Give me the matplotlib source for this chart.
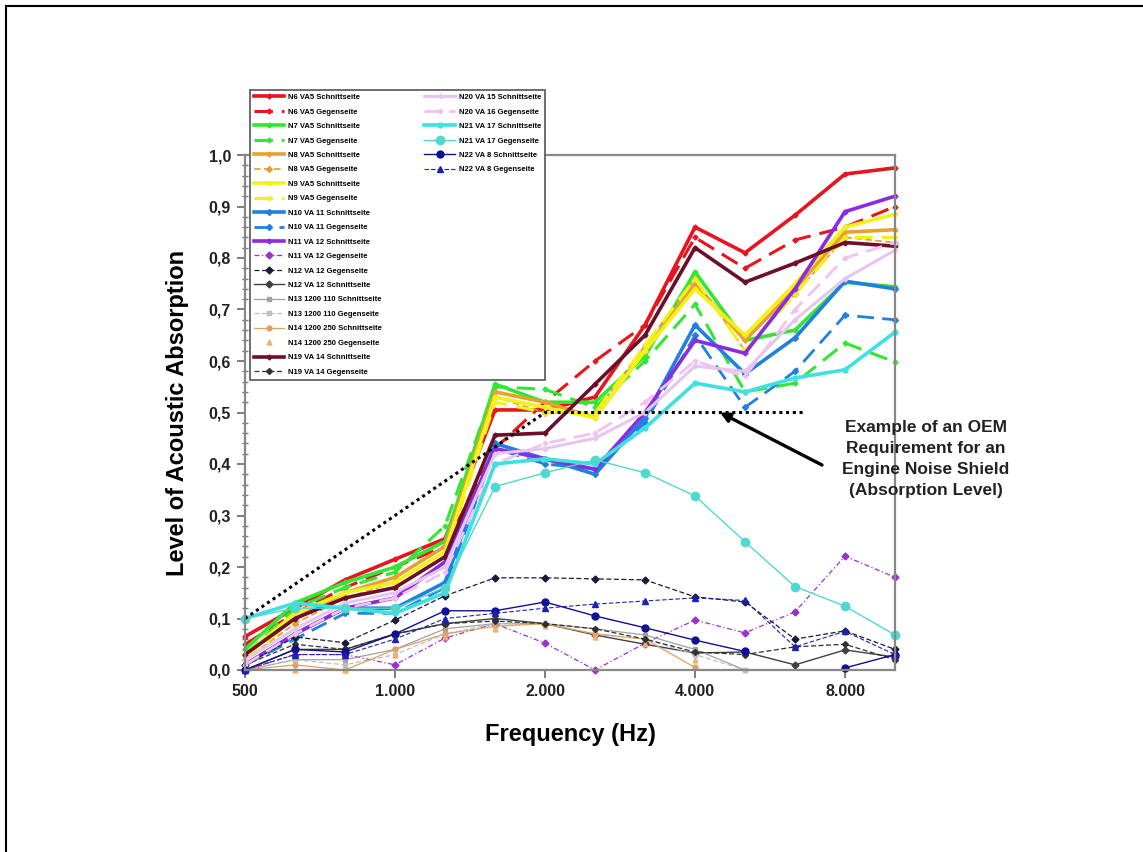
import numpy as np
import matplotlib
matplotlib.use("Agg")
import matplotlib.pyplot as plt
from matplotlib.lines import Line2D

plt.rcParams['font.family'] = ['Liberation Sans', 'DejaVu Sans']

# third-octave bands, plotted at even spacing
freqs = [500, 630, 800, 1000, 1250, 1600, 2000, 2500, 3150, 4000, 5000, 6300, 8000, 10000]
tick_idx = [0, 3, 6, 9, 12]
tick_labels = ["500", "1.000", "2.000", "4.000", "8.000"]

n6_s = [0.065, 0.12, 0.175, 0.215, 0.255, 0.505, 0.505, 0.53, 0.67, 0.86, 0.81, 0.883, 0.963, 0.975]
n6_g = [0.05, 0.11, 0.16, 0.20, 0.24, 0.43, 0.52, 0.60, 0.67, 0.84, 0.78, 0.835, 0.86, 0.90]
n7_s = [0.04, 0.13, 0.17, 0.20, 0.25, 0.555, 0.52, 0.52, 0.61, 0.773, 0.64, 0.66, 0.753, 0.744]
n7_g = [0.03, 0.12, 0.16, 0.19, 0.28, 0.55, 0.545, 0.51, 0.60, 0.71, 0.54, 0.557, 0.635, 0.598]
n8_s = [0.03, 0.10, 0.15, 0.18, 0.24, 0.54, 0.52, 0.49, 0.62, 0.75, 0.64, 0.74, 0.85, 0.855]
n8_g = [0.02, 0.09, 0.14, 0.17, 0.23, 0.53, 0.50, 0.50, 0.63, 0.76, 0.62, 0.73, 0.84, 0.83]
n9_s = [0.03, 0.11, 0.15, 0.17, 0.23, 0.53, 0.51, 0.49, 0.62, 0.74, 0.65, 0.75, 0.86, 0.885]
n9_g = [0.02, 0.10, 0.14, 0.16, 0.22, 0.52, 0.50, 0.50, 0.63, 0.76, 0.62, 0.73, 0.84, 0.84]
n10_s = [0.01, 0.07, 0.12, 0.12, 0.17, 0.44, 0.41, 0.38, 0.49, 0.67, 0.575, 0.645, 0.755, 0.74]
n10_g = [0.01, 0.06, 0.11, 0.11, 0.16, 0.43, 0.40, 0.39, 0.48, 0.65, 0.51, 0.58, 0.689, 0.68]
n11_s = [0.01, 0.07, 0.12, 0.14, 0.21, 0.43, 0.41, 0.39, 0.50, 0.64, 0.615, 0.74, 0.89, 0.92]
n11_g = [0.0, 0.03, 0.03, 0.01, 0.062, 0.09, 0.052, 0.0, 0.052, 0.097, 0.072, 0.113, 0.221, 0.18]
n12_g = [0.01, 0.064, 0.053, 0.097, 0.144, 0.179, 0.179, 0.177, 0.175, 0.142, 0.132, 0.06, 0.076, 0.04]
n12_s = [0.0, 0.04, 0.04, 0.07, 0.09, 0.10, 0.09, 0.068, 0.05, 0.033, 0.035, 0.01, 0.039, 0.025]
n13_s = [0.0, 0.02, 0.02, 0.04, 0.08, 0.09, 0.09, 0.08, 0.068, 0.04, 0.0, np.nan, np.nan, np.nan]
n13_g = [0.0, 0.02, 0.01, 0.03, 0.07, 0.09, 0.09, 0.07, 0.06, 0.03, 0.0, np.nan, np.nan, np.nan]
n14_s = [0.0, 0.01, 0.0, 0.04, 0.07, 0.085, 0.09, 0.07, 0.06, 0.005, np.nan, np.nan, np.nan, np.nan]
n14_g = [0.0, 0.0, 0.0, 0.03, 0.065, 0.08, 0.085, 0.065, 0.05, 0.02, np.nan, np.nan, np.nan, np.nan]
n19_s = [0.03, 0.10, 0.14, 0.16, 0.22, 0.456, 0.46, 0.555, 0.65, 0.82, 0.753, 0.79, 0.83, 0.823]
n19_g = [0.01, 0.05, 0.04, 0.07, 0.09, 0.095, 0.09, 0.08, 0.06, 0.035, 0.03, 0.045, 0.05, 0.02]
n20_s = [0.02, 0.08, 0.13, 0.15, 0.20, 0.42, 0.43, 0.45, 0.50, 0.59, 0.58, 0.68, 0.76, 0.815]
n20_g = [0.01, 0.07, 0.12, 0.14, 0.19, 0.40, 0.44, 0.46, 0.52, 0.60, 0.57, 0.70, 0.80, 0.83]
n21_s = [0.10, 0.13, 0.12, 0.11, 0.15, 0.40, 0.41, 0.40, 0.47, 0.557, 0.54, 0.567, 0.583, 0.656]
n21_g = [0.10, 0.12, 0.12, 0.12, 0.16, 0.356, 0.383, 0.408, 0.383, 0.338, 0.249, 0.162, 0.124, 0.068]
n22_s = [0.0, 0.04, 0.035, 0.07, 0.115, 0.115, 0.132, 0.105, 0.082, 0.058, 0.036, np.nan, 0.004, 0.03]
n22_g = [0.0, 0.03, 0.03, 0.06, 0.10, 0.11, 0.12, 0.128, 0.134, 0.14, 0.135, 0.045, 0.075, 0.03]

labels = [
    "N6 VA5 Schnittseite", "N6 VA5 Gegenseite",
    "N7 VA5 Schnittseite", "N7 VA5 Gegenseite",
    "N8 VA5 Schnittseite", "N8 VA5 Gegenseite",
    "N9 VA5 Schnittseite", "N9 VA5 Gegenseite",
    "N10 VA 11 Schnittseite", "N10 VA 11 Gegenseite",
    "N11 VA 12 Schnittseite", "N11 VA 12 Gegenseite",
    "N12 VA 12 Gegenseite", "N12 VA 12 Schnittseite",
    "N13 1200 110 Schnittseite", "N13 1200 110 Gegenseite",
    "N14 1200 250 Schnittseite", "N14 1200 250 Gegenseite",
    "N19 VA 14 Schnittseite", "N19 VA 14 Gegenseite",
    "N20 VA 15 Schnittseite", "N20 VA 16 Gegenseite",
    "N21 VA 17 Schnittseite", "N21 VA 17 Gegenseite",
    "N22 VA 8 Schnittseite", "N22 VA 8 Gegenseite",
]
series = [n6_s, n6_g, n7_s, n7_g, n8_s, n8_g, n9_s, n9_g, n10_s, n10_g,
          n11_s, n11_g, n12_g, n12_s, n13_s, n13_g, n14_s, n14_g, n19_s, n19_g,
          n20_s, n20_g, n21_s, n21_g, n22_s, n22_g]

# color, linestyle, linewidth, marker, markersize
styles = [
    ("#e8141e", "-", 2.6, "D", 2.5), ("#e8141e", (0, (6, 3)), 2.2, "D", 2.5),
    ("#33e633", "-", 2.6, "D", 2.5), ("#33e633", (0, (6, 3)), 2.2, "D", 2.5),
    ("#e8a030", "-", 2.6, "D", 2.5), ("#e0a030", (0, (4, 2)), 1.2, "D", 3),
    ("#f2f21a", "-", 2.6, "D", 2.5), ("#f2f21a", (0, (6, 3)), 2.2, "D", 2.5),
    ("#2080e0", "-", 2.6, "D", 3), ("#2080e0", (0, (6, 3)), 2.0, "D", 3),
    ("#8a2be2", "-", 2.6, "D", 2.5), ("#9932cc", (0, (4, 2, 1, 2)), 0.9, "D", 3.5),
    ("#1a1a3a", (0, (4, 2)), 0.9, "D", 3.5), ("#404040", "-", 1.0, "D", 3.5),
    ("#a0a0a0", "-", 0.9, "s", 3.5), ("#b8c0c8", (0, (4, 2)), 0.9, "s", 3.5),
    ("#e0a060", "-", 0.9, "o", 3.5), ("#f0b070", "none", 0.9, "^", 3.5),
    ("#6b0f2a", "-", 2.6, "D", 2.5), ("#303030", (0, (4, 2)), 0.9, "D", 3),
    ("#e6c6f0", "-", 2.2, "D", 2.5), ("#f4c0f0", (0, (6, 3)), 2.0, "D", 2.5),
    ("#40e0e0", "-", 2.6, "o", 3.5), ("#50d8d0", "-", 1.0, "o", 6),
    ("#101090", "-", 1.0, "o", 5), ("#2020b0", (0, (4, 2)), 0.8, "^", 4.5),
]

# OEM requirement line
req_x = [0, 6, 11.2]
req_y = [0.1, 0.5, 0.5]

fig = plt.figure(figsize=(11.43, 8.52), dpi=100)
ax = fig.add_axes([245 / 1143, 1 - 670 / 852, 650 / 1143, 515 / 852])

x = np.arange(len(freqs))
handles = []
for vals, lab, (c, ls, lw, mk, ms) in zip(series, labels, styles):
    h, = ax.plot(x, vals, color=c, linestyle=ls, linewidth=lw, marker=mk,
                 markersize=ms, label=lab, clip_on=False)
    handles.append(h)

ax.plot(req_x, req_y, color="black", linestyle=(0, (1, 1.2)), linewidth=2.2)

ax.set_xlim(0, 13)
ax.set_ylim(0, 1.0)
ax.set_xticks(tick_idx)
ax.set_xticklabels(tick_labels)
ax.set_yticks(np.arange(0, 1.01, 0.1))
ax.set_yticklabels([f"{v:.1f}".replace(".", ",") for v in np.arange(0, 1.01, 0.1)])
ax.set_yticks(np.arange(0, 1.001, 0.02), minor=True)
for sp in ax.spines.values():
    sp.set_color("#888888")
    sp.set_linewidth(1.6)
ax.tick_params(axis="both", which="major", labelsize=11.5, color="#666666",
               length=6, width=1.2, direction="out", pad=4)
ax.tick_params(axis="y", which="minor", length=4, width=1.0, color="#777777",
               direction="inout")
for t in ax.get_xticklabels() + ax.get_yticklabels():
    t.set_fontweight("bold")
    t.set_color("#222222")

ax.set_xlabel("Frequency (Hz)", fontsize=17, fontweight="bold", labelpad=17)
ax.set_ylabel("Level of Acoustic Absorption", fontsize=17, fontweight="bold", labelpad=14)

fig.text(926 / 1143, 1 - 459 / 852,
         "Example of an OEM\nRequirement for an\nEngine Noise Shield\n(Absorption Level)",
         ha="center", va="center", fontsize=12.5, fontweight="bold", color="#222222",
         linespacing=1.5)
ax.annotate("", xy=(9.5, 0.5), xytext=(822 / 1143, 1 - 465 / 852),
            textcoords="figure fraction",
            arrowprops=dict(arrowstyle="-|>", color="black", lw=2.4, shrinkA=0, shrinkB=0,
                            mutation_scale=14))

# legend: 20 entries in the first column, 6 in the second
blank = Line2D([], [], linestyle="none", marker=None)
leg_handles = handles[:20] + handles[20:] + [blank] * 14
leg_labels = labels[:20] + labels[20:] + [""] * 14
leg = fig.legend(leg_handles, leg_labels, ncol=2, loc="upper left",
                 bbox_to_anchor=(250 / 1143, 1 - 380 / 852, 295 / 1143, 290 / 852),
                 mode="expand", fontsize=5.5, labelspacing=0.93, handlelength=4.0,
                 handletextpad=0.5, columnspacing=1.5, borderaxespad=0.0,
                 borderpad=0.5, frameon=True, fancybox=False, framealpha=1.0)
leg.get_frame().set_edgecolor("#555555")
leg.get_frame().set_linewidth(1.2)
for t in leg.get_texts():
    t.set_fontweight("bold")

# slide border
fig.add_artist(Line2D([6 / 1143, 6 / 1143], [0, 1 - 6 / 852], color="black", lw=1.5))
fig.add_artist(Line2D([6 / 1143, 1], [1 - 6 / 852, 1 - 6 / 852], color="black", lw=1.5))

fig.savefig("out.png", dpi=100)
